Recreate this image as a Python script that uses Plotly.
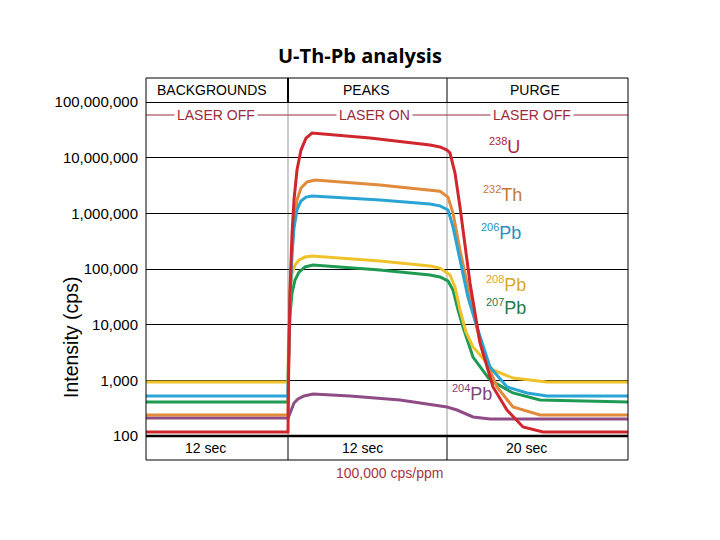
import math
import plotly.graph_objects as go

# ---------------- data ----------------
# x: horizontal position across the three phases (display units)
phase_edges = [0, 142, 301, 482]
phase_names = ["BACKGROUNDS", "PEAKS", "PURGE"]
phase_laser = ["LASER OFF", "LASER ON", "LASER OFF"]
phase_durations = ["12 sec", "12 sec", "20 sec"]

tick_vals = [1e2, 1e3, 1e4, 1e5, 1e6, 1e7, 1e8]
tick_text = ["100", "1,000", "10,000", "100,000", "1,000,000", "10,000,000", "100,000,000"]

u238_x = [0, 142, 142.5, 144, 146, 148, 151, 155, 160, 166, 224, 284, 294, 301, 304, 309, 314, 319, 324, 334, 347, 361, 377, 397, 482]
u238_y = [118, 118, 1010, 4.2e4, 4.1e5, 1.74e6, 6.0e6, 1.37e7, 2.25e7, 2.77e7, 2.25e7, 1.69e7, 1.56e7, 1.37e7, 1.21e7,
          5.3e6, 1.3e6, 2.5e5, 5.6e4, 4700, 760, 293, 145, 118, 118]

th232_x = [0, 142, 142.5, 144, 146, 148, 151, 155, 161, 169, 234, 284, 294, 302, 307, 314, 321, 329, 337, 351, 367, 394, 482]
th232_y = [239, 239, 1530, 2.77e4, 2.19e5, 6.98e5, 1.74e6, 2.85e6, 3.66e6, 3.97e6, 3.23e6, 2.62e6, 2.5e6, 1.96e6, 1.01e6,
           2.2e5, 5.6e4, 1.2e4, 3100, 760, 332, 239, 239]

pb206_x = [0, 142, 142.5, 144, 146, 148, 151, 155, 160, 166, 234, 284, 294, 302, 307, 314, 322, 331, 344, 361, 381, 401, 482]
pb206_y = [524, 524, 2320, 2.77e4, 1.79e5, 5.46e5, 1.15e6, 1.67e6, 1.96e6, 2.05e6, 1.74e6, 1.47e6, 1.36e6, 1.15e6, 5.7e5,
           1.45e5, 3.1e4, 9100, 1740, 760, 593, 524, 524]

pb208_x = [0, 142, 142.5, 144, 146, 149, 153, 159, 166, 234, 284, 294, 304, 309, 314, 320, 327, 347, 367, 401, 482]
pb208_y = [933, 933, 5310, 4.2e4, 8.1e4, 1.18e5, 1.45e5, 1.64e5, 1.71e5, 1.39e5, 1.13e5, 1.04e5, 7.8e4, 4.75e4, 1.84e4,
           7400, 3970, 1540, 1100, 933, 933]

pb207_x = [0, 142, 142.5, 144, 146, 149, 153, 159, 167, 234, 284, 294, 302, 307, 312, 317, 327, 344, 367, 394, 482]
pb207_y = [408, 408, 2320, 1.49e4, 3.7e4, 6.35e4, 8.8e4, 1.09e5, 1.18e5, 9.6e4, 7.8e4, 7.2e4, 6.1e4, 4.2e4, 1.84e4,
           9100, 2620, 1010, 593, 444, 408]

pb204_x = [0, 142, 143, 145, 148, 152, 158, 167, 204, 254, 301, 311, 327, 344, 482]
pb204_y = [211, 211, 229, 293, 392, 462, 524, 569, 524, 444, 332, 293, 220, 202, 202]

# name, x, y, line colour, label colour, label right edge (page px), label centre (page px), superscript, element
series = [
    ("204Pb", pb204_x, pb204_y, "#8e4b86", "#7b4676", 494, 393, "204", "Pb"),
    ("207Pb", pb207_x, pb207_y, "#1f9a52", "#1f7a50", 528, 307, "207", "Pb"),
    ("208Pb", pb208_x, pb208_y, "#f0c22a", "#d6a92a", 528, 284, "208", "Pb"),
    ("232Th", th232_x, th232_y, "#e08a3c", "#c4783a", 524, 194, "232", "Th"),
    ("206Pb", pb206_x, pb206_y, "#2aa4d5", "#2a8ec0", 523, 232, "206", "Pb"),
    ("238U", u238_x, u238_y, "#d0262e", "#b3243a", 522, 146, "238", "U"),
]

# ---------------- figure ----------------
FONT = "Liberation Sans, Arial, sans-serif"
MAROON = "#9c2a3c"
W, H = 720, 540
OFF = 8                      # page offset of the plot div (body margin)
P_L, P_R, P_T, P_B = 146, 628, 78, 460   # plot frame in page pixels
ML, MT = P_L - OFF, P_T - OFF
MR, MB = W - (P_R - OFF), H - (P_B - OFF)
plot_w, plot_h = P_R - P_L, P_B - P_T
dec_px = (plot_h - 48) / 6.0
ymin = 2 - 24 / dec_px
ymax = 8 + 24 / dec_px


def py(v):
    return (math.log10(v) - ymin) / (ymax - ymin)


def pxp(x):
    return (x - P_L) / plot_w


def pyp(y):
    return (P_B - y) / plot_h


fig = go.Figure()
for name, xs, ys, col, tcol, lx, ly, sup, el in series:
    fig.add_trace(go.Scatter(x=xs, y=ys, mode="lines", name=name,
                             line=dict(color=col, width=3, shape="linear"),
                             hoverinfo="skip"))

annotations = []
shapes = []

for name, xs, ys, col, tcol, lx, ly, sup, el in series:
    annotations.append(dict(
        x=pxp(lx), y=pyp(ly), xref="paper", yref="paper", xanchor="right", yanchor="middle",
        text=f"<sup><span style='font-size:11px'>{sup}</span></sup>{el}",
        showarrow=False, font=dict(family=FONT, size=18, color=tcol)))

for xe in phase_edges[1:3]:
    shapes.append(dict(type="line", xref="x", yref="paper", x0=xe, x1=xe, y0=py(1e2), y1=py(1e8),
                       line=dict(color="#999999", width=1), layer="below"))
shapes.append(dict(type="line", xref="x", yref="paper", x0=phase_edges[1], x1=phase_edges[1],
                   y0=py(1e8), y1=1, line=dict(color="black", width=2)))
shapes.append(dict(type="line", xref="x", yref="paper", x0=phase_edges[2], x1=phase_edges[2],
                   y0=py(1e8), y1=1, line=dict(color="black", width=1)))
for xe in phase_edges[1:3]:
    shapes.append(dict(type="line", xref="x", yref="paper", x0=xe, x1=xe, y0=0, y1=py(1e2),
                       line=dict(color="black", width=1)))
shapes.append(dict(type="line", xref="paper", yref="paper", x0=0, x1=1, y0=py(1e2), y1=py(1e2),
                   line=dict(color="black", width=2.5)))
laser_y = pyp(115)
shapes.append(dict(type="line", xref="paper", yref="paper", x0=0, x1=1, y0=laser_y, y1=laser_y,
                   line=dict(color=MAROON, width=1)))
shapes.append(dict(type="rect", xref="paper", yref="paper", x0=0, x1=1, y0=0, y1=1,
                   line=dict(color="black", width=1)))

head_x = [212, 366, 535]
laser_x = [216, 374, 532]
foot_x = [205, 362, 526]
for i in range(3):
    annotations.append(dict(x=pxp(head_x[i]), y=pyp(90), xref="paper", yref="paper",
                            xanchor="center", yanchor="middle",
                            text=phase_names[i], showarrow=False,
                            font=dict(family=FONT, size=14, color="black")))
    annotations.append(dict(x=pxp(laser_x[i]), y=laser_y, xref="paper", yref="paper",
                            xanchor="center", yanchor="middle",
                            text=phase_laser[i], showarrow=False, bgcolor="white", borderpad=2,
                            font=dict(family=FONT, size=14, color=MAROON)))
    annotations.append(dict(x=pxp(foot_x[i]), y=pyp(448), xref="paper", yref="paper",
                            xanchor="center", yanchor="middle",
                            text=phase_durations[i], showarrow=False,
                            font=dict(family=FONT, size=14, color="black")))

annotations.append(dict(x=pxp(389), y=pyp(473), xref="paper", yref="paper",
                        xanchor="center", yanchor="middle",
                        text="100,000 cps/ppm", showarrow=False,
                        font=dict(family=FONT, size=14, color="#a3363f")))
annotations.append(dict(x=pxp(71), y=pyp(338), xref="paper", yref="paper",
                        xanchor="center", yanchor="middle",
                        text="Intensity (cps)", textangle=-90, showarrow=False,
                        font=dict(family=FONT, size=19.5, color="black")))
annotations.append(dict(x=pxp(360), y=pyp(55), xref="paper", yref="paper",
                        xanchor="center", yanchor="middle",
                        text="<b>U-Th-Pb analysis</b>", showarrow=False,
                        font=dict(family="Open Sans, sans-serif", size=20, color="black")))

fig.update_layout(
    width=W, height=H,
    margin=dict(l=ML, r=MR, t=MT, b=MB, autoexpand=False),
    paper_bgcolor="white", plot_bgcolor="white",
    showlegend=False,
    xaxis=dict(range=[phase_edges[0], phase_edges[-1]], showgrid=False, zeroline=False,
               showticklabels=False, ticks="", showline=False, fixedrange=True),
    yaxis=dict(type="log", range=[ymin, ymax], tickvals=tick_vals, ticktext=tick_text,
               showgrid=True, gridcolor="black", gridwidth=1, zeroline=False, showline=False,
               ticks="", ticklabelstandoff=7, automargin=False,
               tickfont=dict(family=FONT, size=15, color="black"), fixedrange=True),
    shapes=shapes,
    annotations=annotations,
)

fig.write_html("out.html")
